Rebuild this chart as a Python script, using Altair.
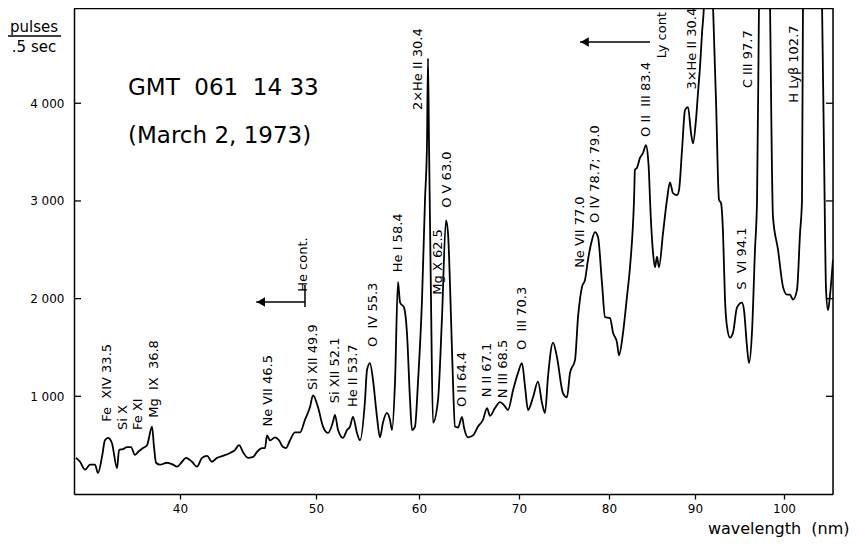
import altair as alt
import pandas as pd

# ---------------- data ----------------
wavelength = [
    30.19, 30.57, 31.04, 31.51, 31.98, 32.26, 32.64, 32.92, 33.21, 33.58, 34.06, 34.25, 34.62, 35.00,
    35.38, 35.75, 36.04, 36.51, 36.89, 36.98, 37.36, 37.55, 37.74, 38.11, 38.77, 39.34, 39.72,
    40.15, 40.44, 40.88, 41.25, 41.62, 41.99, 42.35, 42.72, 43.16, 43.68, 44.04, 44.34, 44.63, 45.00,
    45.37, 45.66, 46.03, 46.25, 46.40, 46.62, 46.99, 47.28, 47.57, 47.79, 48.09, 48.46, 48.82, 49.19,
    49.56, 49.78,
    50.19, 50.68, 51.17, 51.65, 51.84, 52.14, 52.62, 53.01, 53.30, 53.59, 53.98, 54.27, 54.76, 54.95,
    55.24, 55.53, 55.92, 56.21, 56.50, 56.89, 57.18, 57.38, 57.67, 57.96, 58.16, 58.54, 58.83, 59.13,
    59.32, 59.61, 59.90,
    60.30, 60.60, 60.80, 60.90, 61.00, 61.20, 61.40, 61.90, 62.30, 62.70, 62.90, 63.20, 63.40, 63.60,
    63.90, 64.30, 64.50, 64.90, 65.40, 65.90, 66.40, 66.80, 67.10, 67.60, 68.10, 68.50, 68.90, 69.40,
    69.90,
    70.33, 70.67, 71.00, 71.56, 72.11, 72.56, 72.89, 73.22, 73.78, 74.22, 74.89, 75.33, 75.67, 76.22,
    76.56, 77.00, 77.33, 77.67, 78.11, 78.44, 78.78, 79.22, 79.56,
    80.12, 80.47, 80.93, 81.16, 81.63, 82.09, 82.44, 82.91, 83.02, 83.26, 83.60, 83.95, 84.30, 84.53,
    84.65, 84.77, 85.12, 85.35, 85.58, 85.81, 86.28, 86.74, 87.09, 87.44, 87.91, 88.14, 88.49, 88.84,
    89.19, 89.53, 89.77,
    90.11, 90.34, 90.56, 90.79, 91.01, 91.46, 92.02, 92.36, 92.70, 92.92, 93.15, 93.37, 93.60, 93.93,
    94.27, 94.72, 95.28, 95.51, 95.84, 96.07, 96.40, 96.74, 96.97, 97.19, 97.87, 98.43, 98.76, 99.33,
    99.89,
    100.34, 100.67, 101.01, 101.46, 101.80, 102.02, 102.13, 103.15, 104.27, 104.49, 104.72, 104.94,
    105.17, 105.50,
]
counts = [
    370, 330, 250, 300, 300, 215, 380, 550, 575, 520, 265, 450, 460, 480,
    480, 400, 430, 470, 500, 530, 690, 480, 320, 300, 320, 300, 280,
    330, 370, 330, 280, 370, 390, 330, 370, 390, 420, 450, 500, 430, 370,
    380, 430, 470, 470, 600, 550, 580, 550, 480, 470, 550, 630, 630, 760,
    890, 1010,
    890, 690, 625, 740, 810, 655, 575, 655, 690, 790, 625, 550, 960, 1270,
    1340, 1170, 790, 580, 730, 830, 760, 655, 1140, 2170, 1960, 1910, 1650, 960,
    655, 690, 1140,
    1990, 3010, 3590, 4460, 3590, 1990, 730, 960, 1810, 2800, 2670, 1810, 1140, 690,
    680, 790, 680, 580, 600, 690, 760, 880, 800, 880, 940, 910, 860, 1060,
    1240,
    1340, 1100, 860, 990, 1150, 930, 830, 1200, 1550, 1400, 1030, 990, 1240, 1370,
    1810, 2120, 2190, 2400, 2600, 2680, 2630, 2160, 1810,
    1800, 1650, 1550, 1420, 1650, 2020, 2320, 3010, 3320, 3340, 3440, 3490, 3570, 3450,
    3290, 3010, 2470, 2320, 2430, 2320, 2670, 3010, 3190, 3080, 3060, 3110, 3520, 3930,
    3960, 3700, 3590,
    3830, 4110, 4370, 4720, 5010, 7000, 5010, 4030, 3010, 2980, 2670, 1990, 1710, 1600,
    1650, 1910, 1960, 1880, 1510, 1340, 1650, 2500, 3010, 5010, 9000, 5010, 2840, 2500,
    2120,
    2040, 2040, 1990, 2090, 2670, 3010, 5010, 9000, 5010, 3520, 2090, 1880,
    2040, 2400,
]

NB = "\u00a0"  # keeps the double spaces of the original lettering
line_labels = [
    f"Fe{NB}{NB}XIV 33.5", "Si X", "Fe XI", f"Mg{NB}{NB}IX{NB}{NB}36.8", "Ne VII 46.5", "He cont.",
    "Si XII 49.9", "Si XII 52.1", "He II 53.7", f"O{NB}{NB}IV 55.3", "He I 58.4",
    "2\u00d7He II 30.4", "Mg X 62.5", "O V 63.0", "O II 64.4", "N II 67.1",
    "N III 68.5", f"O{NB}{NB}III 70.3", "Ne VII 77.0", "O IV 78.7; 79.0",
    f"O II{NB}{NB}III 83.4", "Ly cont", "3\u00d7He II 30.4", f"S{NB}{NB}VI 94.1",
    "C III 97.7", "H Ly\u03b2 102.7",
]
label_wavelength = [
    33.11, 34.62, 36.04, 37.55, 46.47, 49.04,
    49.78, 51.84, 53.59, 55.53, 57.96,
    59.90, 61.90, 62.80, 64.30, 66.80,
    68.40, 70.33, 76.78, 78.44,
    84.30, 86.16, 89.65, 95.28,
    95.96, 101.12,
]
label_counts = [
    740, 655, 655, 780, 690, 2070,
    1065, 930, 890, 1505, 2270,
    3930, 2040, 2930, 890, 990,
    980, 1475, 2315, 2775,
    3655, 4460, 4140, 2090,
    4155, 4005,
]

# continuum arrows (He cont., Ly cont)
arrow_start = [49.19, 84.77]
arrow_end = [45.60, 76.78]
arrow_head = [45.95, 77.30]
arrow_level = [1966, 4628]
bar_wavelength = [49.19]
bar_low = [1915]
bar_high = [2140]

x_ticks = [40, 50, 60, 70, 80, 90, 100]
y_ticks = [1000, 2000, 3000, 4000]
x_domain = [30, 40, 50, 60, 70, 80, 90, 100, 105.5]

title_line1 = f"GMT{NB}{NB}061{NB}{NB}14 33"
title_line2 = "(March 2, 1973)"
unit_top = "pulses"
unit_bottom = ".5 sec"
x_title = f"wavelength{NB}{NB}(nm)"

# ---------------- layout ----------------
W, H = 759, 486
FONT = "DejaVu Sans"

x_scale = alt.Scale(domain=x_domain,
                    range=[0, 106, 242, 345, 445, 535, 621, 710, W],
                    zero=False, nice=False)
y_scale = alt.Scale(domain=[0, 4975], zero=False, nice=False)

x_axis = alt.Axis(values=x_ticks, title=x_title, format="d", grid=False,
                  tickSize=5, labelPadding=4, labelFontSize=12, labelFont=FONT,
                  labelColor="black", tickColor="black", domainColor="black",
                  domainWidth=1.5, tickWidth=1.3, labelFlush=False,
                  titleX=775, titleY=34, titleAlign="right", titleBaseline="middle",
                  titleFont=FONT, titleFontSize=16, titleFontWeight="normal",
                  titleColor="black")
y_axis = alt.Axis(values=y_ticks, title=None, grid=False, ticks=False, tickSize=0,
                  labelPadding=10, labelFontSize=12, labelFont=FONT,
                  labelColor="black", domainColor="black", domainWidth=1.5,
                  labelExpr="replace(format(datum.value, ','), ',', ' ')")


def xq(field="wavelength"):
    return alt.X(f"{field}:Q", scale=x_scale, axis=x_axis)


def yq(field="counts"):
    return alt.Y(f"{field}:Q", scale=y_scale, axis=y_axis)


spec_df = pd.DataFrame({"wavelength": wavelength, "counts": counts})
spectrum = alt.Chart(spec_df).mark_line(
    color="black", strokeWidth=1.8, clip=True, strokeJoin="round",
    interpolate="monotone"
).encode(x=xq(), y=yq())

tick_df = pd.DataFrame({"counts": y_ticks})
left_ticks = alt.Chart(tick_df).mark_rule(color="black", strokeWidth=1.3).encode(
    y=yq(), x=alt.value(0), x2=alt.value(7))
right_ticks = alt.Chart(tick_df).mark_rule(color="black", strokeWidth=1.3).encode(
    y=yq(), x=alt.value(W - 7), x2=alt.value(W))

frame_df = pd.DataFrame({"t": ["frame"]})
top_border = alt.Chart(frame_df).mark_rule(color="black", strokeWidth=1.5).encode(
    x=alt.value(0), x2=alt.value(W), y=alt.value(0.5))
right_border = alt.Chart(frame_df).mark_rule(color="black", strokeWidth=1.5).encode(
    x=alt.value(W), y=alt.value(0), y2=alt.value(H))

lab_df = pd.DataFrame({"label": line_labels, "wavelength": label_wavelength,
                       "counts": label_counts})
labels = alt.Chart(lab_df).mark_text(
    angle=270, align="left", baseline="middle", font=FONT, fontSize=13, color="black"
).encode(x=xq(), y=yq(), text="label:N")

arrow_df = pd.DataFrame({"wavelength": arrow_end, "wavelength2": arrow_start,
                         "counts": arrow_level})
arrows = alt.Chart(arrow_df).mark_rule(color="black", strokeWidth=1.5).encode(
    x=xq(), x2="wavelength2:Q", y=yq())
head_df = pd.DataFrame({"wavelength": arrow_head, "counts": arrow_level})
heads = alt.Chart(head_df).mark_point(
    shape="triangle-left", filled=True, color="black", size=90, opacity=1
).encode(x=xq(), y=yq())
bar_df = pd.DataFrame({"wavelength": bar_wavelength, "counts": bar_low,
                       "counts2": bar_high})
bars = alt.Chart(bar_df).mark_rule(color="black", strokeWidth=1.5).encode(
    x=xq(), y=yq(), y2="counts2:Q")

t1 = alt.Chart(pd.DataFrame({"t": [title_line1]})).mark_text(
    align="left", baseline="middle", font=FONT, fontSize=23, color="black"
).encode(text="t:N", x=alt.value(54), y=alt.value(80))
t2 = alt.Chart(pd.DataFrame({"t": [title_line2]})).mark_text(
    align="left", baseline="middle", font=FONT, fontSize=23, color="black"
).encode(text="t:N", x=alt.value(54), y=alt.value(128))

u1 = alt.Chart(pd.DataFrame({"t": [unit_top]})).mark_text(
    align="center", baseline="middle", font=FONT, fontSize=15, color="black"
).encode(text="t:N", x=alt.value(-40), y=alt.value(19))
u_line = alt.Chart(pd.DataFrame({"t": [unit_top]})).mark_rule(
    color="black", strokeWidth=1.4
).encode(x=alt.value(-66), x2=alt.value(-13), y=alt.value(28))
u2 = alt.Chart(pd.DataFrame({"t": [unit_bottom]})).mark_text(
    align="center", baseline="middle", font=FONT, fontSize=15, color="black"
).encode(text="t:N", x=alt.value(-40), y=alt.value(39))

chart = alt.layer(
    spectrum, left_ticks, right_ticks, top_border, right_border, labels,
    arrows, heads, bars, t1, t2, u1, u_line, u2
).properties(
    width=W, height=H,
    autosize=alt.AutoSizeParams(type="none"),
    padding={"left": 66, "top": 0, "right": 18, "bottom": 44},
).configure_view(
    stroke="black", strokeWidth=1.5
).configure(
    background="white"
)

chart.save("out.html", embed_options={"renderer": "svg", "actions": False})
